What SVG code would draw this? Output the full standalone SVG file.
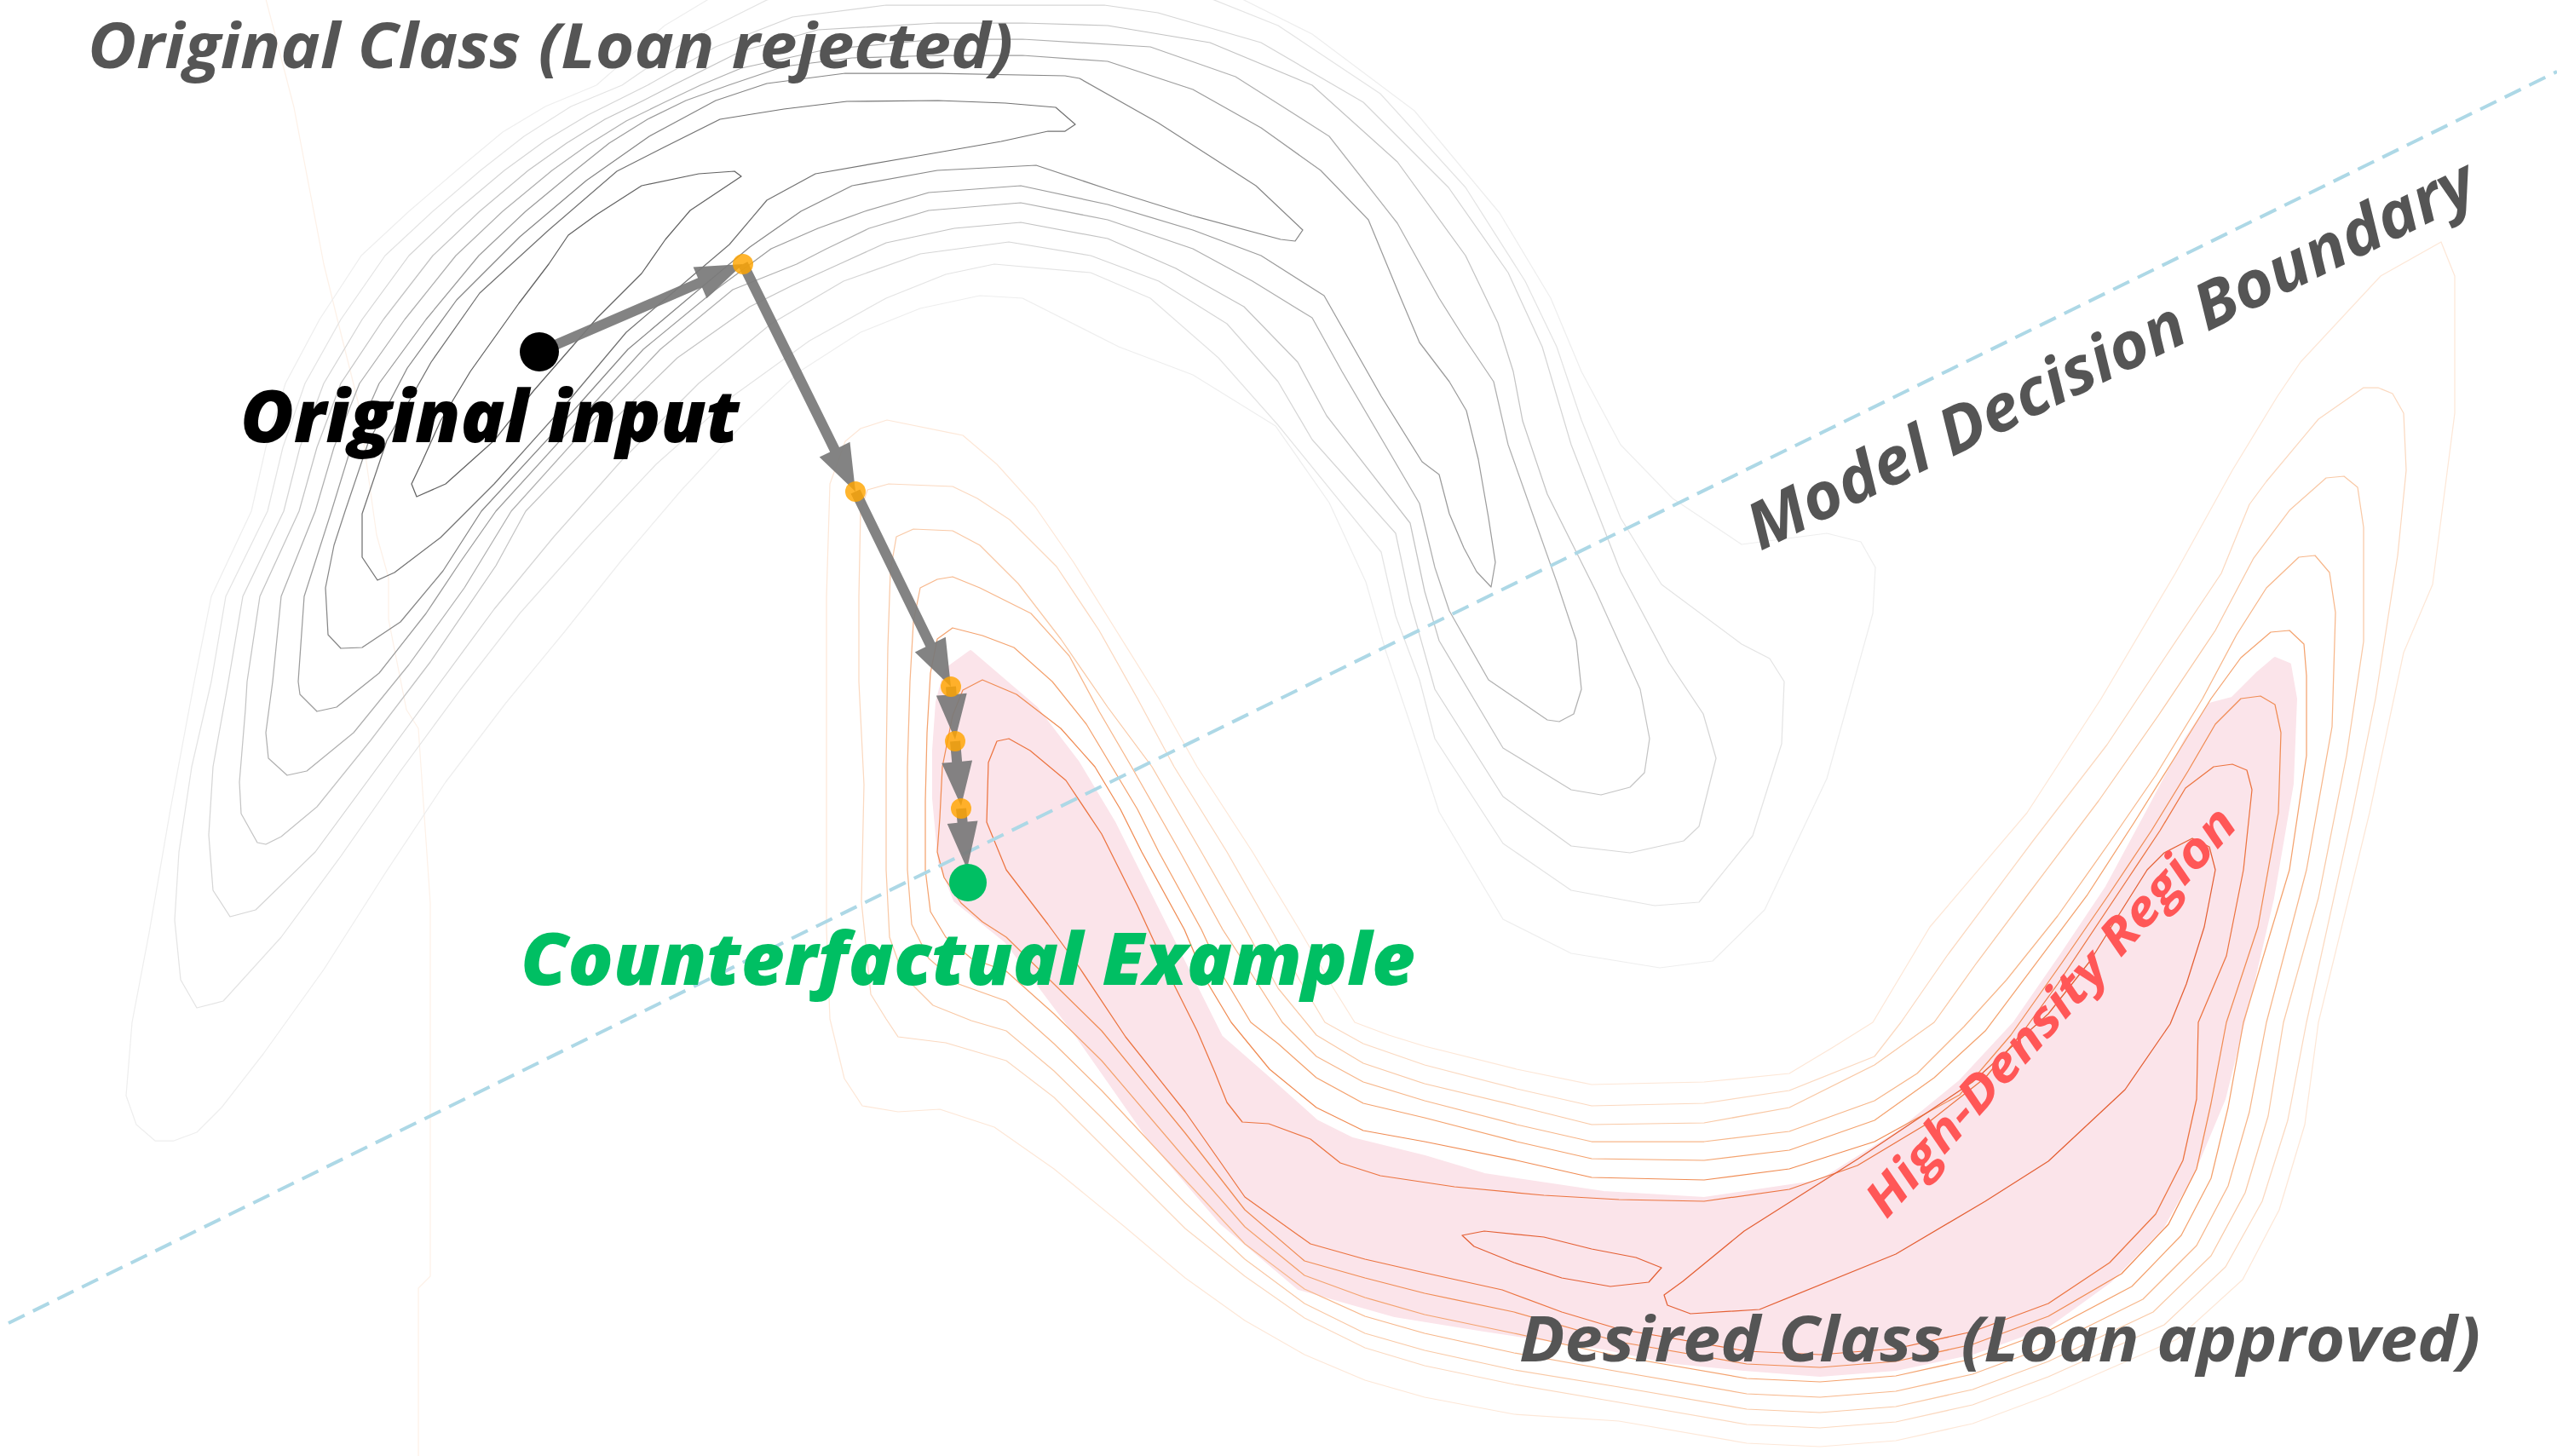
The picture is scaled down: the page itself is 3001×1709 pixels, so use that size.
<svg xmlns="http://www.w3.org/2000/svg" width="3001" height="1709" viewBox="0 0 3001 1709">
<style>
  .c{fill:none;stroke-width:1.25;stroke-linejoin:round;stroke-linecap:round}
  .g1{stroke:#626262}.g2{stroke:#727272}.g3{stroke:#878787}.g4{stroke:#9c9c9c}.g5{stroke:#b0b0b0}
  .g6{stroke:#c4c4c4}.g7{stroke:#d6d6d6}.g8{stroke:#e4e4e4}.g9{stroke:#eeeeee}
  .o0{stroke:#e45f33}.o1{stroke:#ec7440}.o2{stroke:#f08c54}.o3{stroke:#f4a36f}.o4{stroke:#f7b78b}
  .o5{stroke:#f9c9a6}.o6{stroke:#fbd9c0}.o7{stroke:#fde7d7}.o8{stroke:#fdf1e8}
  .pink{fill:#fbe4ea;stroke:#fbe4ea;stroke-width:4;stroke-linejoin:round}
  .boundary{fill:none;stroke:#add8e6;stroke-width:4;stroke-dasharray:21 11}
  .arrow{fill:#7a7a7a;fill-opacity:0.93}
  .step{fill:#ffa500;fill-opacity:0.82}
  text{font-family:"Open Sans","Liberation Sans",sans-serif;font-style:italic}
  .cls{font-size:74px;font-weight:700;fill:#555555}
  .big{font-size:85px;font-weight:800}
</style>
<rect width="3001" height="1709" fill="#ffffff"/>

<!-- high-density band of the approved class -->
<path class="pink" d="M1139,765 L1167,789 1216,831 1265,895 1307,965 1349,1049 1391,1133 1433,1217 1489,1266 1545,1316 1587,1337 1672,1358 1742,1379 1882,1400 2000,1407 2136,1387 2225,1331 2300,1270 2365,1200 2419,1122 2473,1041 2520,954 2566,867 2593,827 2620,820 2650,790 2670,773 2687,780 2694,820 2690,920 2667,1054 2640,1170 2610,1290 2574,1376 2538,1440 2476,1504 2404,1556 2315,1588 2225,1607 2136,1614 2047,1607 1957,1598 1882,1582 1742,1561 1637,1544 1524,1512 1433,1435 1349,1337 1265,1217 1181,1105 1121,1057 1103,1012 1096,937 1096,881 1100,824 1110,786 Z"/>

<!-- density contours: approved class (orange) -->
<g id="density-approved">
<path class="c o8" d="M311,-5 L345,126 380,310 397,379 420,471 442,628 456,678 456,727 477,833 491,855 505,1060 505,1498 491,1512 491,1715"/>
<path class="c o7" d="M1041,493 L1010,503 992,518 974,568 970,700 970,850 970,1091 974,1196 991,1266 1012,1298 1054,1305 1103,1302 1167,1323 1237,1372 1320,1440 1391,1500 1461,1550 1531,1590 1602,1620 1672,1640 1777,1660 1900,1668 2050,1694 2136,1698 2225,1691 2315,1671 2404,1638 2555,1572 2632,1502 2675,1420 2705,1320 2721,1200 2781,954 2821,766 2855,686 2881,485 2881,324 2865,284 2794,324 2700,425 2673,465 2620,552 2553,673 2466,820 2379,954 2265,1088 2198,1200 2150,1230 2100,1260 2000,1270 1868,1273 1780,1255 1672,1228 1630,1215 1590,1200 1565,1160 1525,1091 1470,1000 1405,900 1360,820 1310,740 1260,660 1215,595 1170,545 1130,511 Z"/>
<path class="c o6" d="M1043,568 L1018,575 1010,600 1008,700 1008,800 1014,921 1011,1058 1022,1167 1040,1196 1054,1217 1110,1224 1181,1245 1237,1288 1293,1344 1391,1442 1461,1498 1531,1547 1602,1582 1672,1603 1777,1625 1900,1646 2050,1672 2136,1676 2225,1669 2315,1649 2404,1616 2540,1555 2612,1487 2655,1410 2685,1315 2707,1200 2761,954 2788,820 2814,652 2824,552 2821,485 2808,462 2791,455 2774,455 2721,492 2660,565 2640,592 2607,673 2540,773 2473,874 2386,987 2285,1122 2231,1200 2200,1240 2100,1280 2000,1295 1868,1298 1780,1278 1672,1250 1600,1225 1555,1200 1525,1150 1492,1091 1440,1000 1378,900 1335,820 1290,740 1240,665 1185,610 1147,585 1118,571 Z"/>
<path class="c o5" d="M1072,621 L1052,630 1045,670 1042,760 1040,900 1040,1021 1044,1100 1060,1145 1095,1180 1140,1198 1181,1210 1237,1257 1293,1312 1391,1412 1461,1478 1531,1530 1602,1565 1672,1585 1777,1608 1900,1628 2050,1654 2136,1658 2225,1651 2315,1631 2404,1598 2527,1540 2595,1474 2635,1400 2662,1310 2680,1200 2721,1054 2754,887 2774,753 2774,619 2767,572 2751,559 2730,561 2687,599 2645,655 2600,740 2533,840 2463,940 2380,1050 2320,1130 2270,1200 2200,1250 2100,1300 2000,1318 1868,1320 1780,1298 1672,1272 1600,1248 1545,1215 1500,1160 1462,1091 1410,1000 1352,900 1300,830 1245,750 1195,685 1150,640 1118,623 Z"/>
<path class="c o4" d="M1100,680 L1080,690 1072,730 1068,800 1065,900 1065,1021 1070,1085 1090,1125 1125,1155 1181,1175 1237,1225 1293,1280 1391,1385 1461,1460 1531,1513 1602,1545 1672,1565 1777,1588 1900,1610 2050,1636 2136,1640 2225,1633 2315,1613 2404,1580 2515,1525 2578,1462 2615,1392 2640,1305 2660,1200 2707,1021 2737,853 2741,719 2734,672 2717,652 2698,654 2660,690 2625,745 2585,820 2530,910 2475,990 2415,1075 2355,1150 2305,1205 2250,1260 2200,1292 2100,1328 2000,1340 1868,1340 1780,1320 1672,1292 1600,1270 1545,1240 1505,1200 1470,1145 1435,1091 1385,1000 1328,900 1290,835 1255,770 1210,720 1150,690 1118,677 Z"/>
<path class="c o3" d="M1118,737 L1100,750 1092,790 1088,860 1086,940 1086,1021 1092,1070 1110,1100 1140,1125 1181,1140 1237,1190 1293,1245 1391,1360 1461,1440 1531,1497 1602,1523 1672,1543 1777,1565 1900,1592 2050,1618 2136,1622 2225,1615 2315,1595 2404,1562 2502,1510 2560,1450 2595,1383 2615,1300 2633,1200 2687,1021 2707,887 2707,793 2704,756 2687,740 2665,742 2630,772 2595,820 2555,885 2505,965 2450,1050 2390,1130 2330,1210 2270,1265 2200,1315 2100,1350 2000,1362 1868,1360 1780,1340 1672,1312 1600,1295 1545,1265 1500,1225 1468,1200 1435,1145 1410,1091 1360,1000 1335,950 1305,900 1275,850 1235,800 1190,760 1153,746 Z"/>
<path class="c o2" d="M1153,798 L1130,810 1118,840 1106,900 1103,960 1100,1000 1108,1030 1128,1060 1153,1082 1181,1100 1237,1155 1293,1210 1391,1330 1461,1420 1531,1480 1602,1500 1672,1518 1777,1540 1900,1575 2050,1601 2136,1605 2225,1598 2315,1578 2404,1545 2490,1495 2545,1437 2578,1372 2595,1295 2613,1200 2650,1088 2674,954 2677,860 2670,827 2653,817 2630,820 2600,850 2568,905 2525,975 2475,1050 2420,1130 2360,1215 2300,1285 2200,1340 2100,1372 2000,1385 1868,1382 1780,1362 1672,1340 1600,1327 1545,1300 1490,1255 1445,1200 1415,1150 1390,1091 1340,1000 1315,950 1285,900 1245,855 1193,815 Z"/>
<path class="c o1" d="M1184,867 L1170,870 1160,895 1158,965 1181,1021 1230,1085 1265,1133 1321,1217 1391,1305 1461,1405 1538,1460 1602,1478 1672,1494 1763,1514 1833,1540 1900,1560 2050,1586 2136,1590 2225,1583 2315,1563 2404,1530 2476,1482 2530,1425 2562,1362 2578,1290 2580,1200 2613,1122 2633,1021 2643,927 2637,904 2620,897 2598,900 2565,925 2535,975 2495,1035 2455,1095 2415,1155 2375,1210 2330,1265 2260,1320 2180,1368 2100,1396 2000,1410 1900,1408 1812,1403 1707,1393 1620,1380 1573,1365 1538,1337 1489,1319 1458,1317 1440,1294 1426,1259 1405,1210 1377,1154 1335,1063 1293,979 1251,916 1209,881 Z"/>
<path class="c o0" d="M1716,1450 L1742,1445 1812,1452 1868,1466 1920,1476 1950,1488 1935,1505 1890,1510 1833,1500 1777,1482 1730,1463 Z"/>
<path class="c o0" d="M1953,1520 L1957,1532 1984,1542 2065,1537 2225,1472 2330,1410 2404,1363 2494,1279 2547,1202 2566,1155 2587,1088 2600,1021 2593,994 2573,984 2540,1001 2520,1021 2486,1075 2453,1128 2404,1190 2315,1270 2181,1360 2047,1445 1975,1504 Z"/>
</g>

<!-- density contours: rejected class (grey) -->
<g id="density-rejected">
<path class="c g9" d="M182,1339 L160,1320 148,1286 155,1200 175,1095 200,950 228,800 248,700 295,600 312,525 335,450 375,375 424,300 480,248 536,200 590,155 640,125 700,100 780,30 880,-30 1000,-60 1300,-60 1420,-20 1540,40 1660,130 1760,250 1820,350 1856,436 1902,522 1963,585 2044,639 2144,626 2184,636 2201,666 2198,720 2144,914 2071,1068 2010,1128 1948,1136 1844,1119 1764,1079 1689,953 1655,849 1626,763 1603,683 1560,590 1497,500 1400,440 1313,407 1200,350 1150,347 1080,362 1010,390 940,435 870,500 800,575 730,657 663,741 593,826 523,918 452,1025 380,1138 309,1237 260,1300 231,1329 204,1339 Z"/>
<path class="c g8" d="M231,1183 L212,1150 205,1080 210,1000 225,900 248,800 265,700 314,600 332,525 358,450 400,375 452,300 508,248 564,200 615,160 670,125 730,100 810,45 900,0 1000,-25 1300,-25 1400,-10 1500,30 1620,110 1720,220 1790,330 1827,407 1856,493 1902,608 1950,686 2044,756 2077,773 2094,800 2091,873 2057,981 1994,1059 1942,1063 1844,1045 1764,990 1684,867 1666,798 1638,723 1621,648 1500,499 1430,420 1350,350 1280,320 1167,310 1110,322 1040,350 950,400 860,465 770,545 690,630 610,720 540,810 470,905 400,1005 330,1100 262,1175 Z"/>
<path class="c g7" d="M270,1076 L250,1045 245,980 250,900 268,800 285,700 333,600 352,525 380,450 425,375 480,300 535,248 592,200 640,165 690,135 760,100 840,55 930,20 1040,6 1296,6 1359,15 1480,50 1600,120 1700,220 1770,320 1810,407 1844,522 1902,671 1959,778 1999,838 2014,890 1994,970 1976,987 1913,1001 1844,993 1764,935 1684,809 1655,706 1638,626 1540,516 1500,448 1440,380 1360,330 1280,300 1184,284 1080,298 990,330 905,380 820,450 730,540 650,630 580,715 510,810 440,905 370,1000 300,1068 Z"/>
<path class="c g6" d="M302,989 L283,955 281,918 288,833 290,800 305,700 351,600 372,525 400,450 450,375 508,300 563,248 620,200 665,168 710,140 755,118 790,100 870,60 960,35 1100,27 1200,27 1300,30 1420,50 1540,100 1640,190 1720,300 1758,379 1776,436 1787,494 1816,580 1873,694 1925,809 1936,867 1930,907 1913,924 1879,933 1844,927 1764,878 1689,752 1672,694 1655,614 1557,488 1523,425 1460,360 1380,315 1300,280 1198,261 1120,268 1040,285 985,310 930,335 880,360 795,420 708,505 617,600 582,664 505,777 435,869 372,947 330,982 312,991 Z"/>
<path class="c g5" d="M337,910 L315,890 312,860 320,800 330,700 370,600 392,525 422,450 475,375 535,300 590,248 648,200 690,170 735,142 780,120 822,100 870,80 970,58 1100,46 1200,46 1350,55 1450,90 1560,160 1640,262 1689,350 1718,396 1753,448 1770,522 1827,683 1850,752 1856,809 1847,838 1830,847 1816,845 1747,798 1701,717 1684,666 1666,591 1575,436 1540,373 1470,330 1400,292 1300,258 1198,238 1090,247 1020,268 970,292 935,310 860,340 775,410 690,500 600,600 545,690 480,780 415,860 360,905 Z"/>
<path class="c g4" d="M372,835 L352,815 350,800 357,700 389,600 412,525 445,450 500,375 562,300 617,248 675,200 715,168 760,140 805,118 855,100 920,78 1000,68 1100,65 1200,65 1300,72 1400,105 1480,150 1550,200 1606,258 1644,350 1666,402 1701,448 1721,482 1735,539 1747,608 1755,660 1750,689 1733,671 1718,643 1701,603 1689,557 1669,542 1621,465 1575,384 1554,347 1480,300 1400,270 1300,240 1198,218 1090,226 1015,248 960,268 905,292 840,340 755,410 673,500 582,600 540,660 500,720 445,790 395,830 Z"/>
<path class="c g3" d="M400,761 L385,745 382,690 392,640 405,600 432,520 478,432 536,352 610,278 688,212 762,160 840,118 900,98 992,86 1100,86 1250,89 1267,92 1359,144 1474,218 1529,270 1520,283 1503,281 1399,253 1300,222 1216,194 1100,200 1000,218 940,248 880,290 820,340 737,410 657,500 565,600 520,670 470,730 425,760 Z"/>
<path class="c g2" d="M443,681 L425,654 425,603 454,517 506,425 563,344 644,270 724,201 781,172 845,140 920,128 994,119 1101,118 1180,121 1239,126 1262,146 1250,154 1230,154 1175,166 1072,184 957,204 900,235 856,287 816,321 735,390 667,471 580,568 517,631 463,672 Z"/>
<path class="c g1" d="M489,583 L483,568 494,545 517,494 552,436 609,356 644,310 667,276 700,252 753,218 820,204 862,201 870,207 810,247 781,281 753,321 701,373 626,459 580,517 523,568 Z"/>
</g>

<!-- classifier decision boundary -->
<path id="decision-boundary" class="boundary" d="M10,1553 L3001,84"/>

<!-- path of the counterfactual search -->
<g id="connectors">
  <polygon class="arrow" points="635.4,418.5 823.9,337.3 829.4,350.2 872,310 813.6,313.4 819.1,326.3 630.6,407.5"/>
  <polygon class="arrow" points="866.6,312.7 974.2,530.4 961.7,536.6 1004,577 997.5,518.8 985.0,525.0 877.4,307.3"/>
  <polygon class="arrow" points="998.6,579.6 1086.4,759.2 1073.8,765.4 1116,806 1109.8,747.8 1097.2,754.0 1009.4,574.4"/>
  <polygon class="arrow" points="1110.0,806.5 1110.7,815.7 1098.8,816.6 1121,868 1134.7,813.8 1122.7,814.7 1122.0,805.5"/>
  <polygon class="arrow" points="1115.0,870.5 1117.2,894.7 1105.2,895.8 1128,946 1141.1,892.6 1129.1,893.7 1127.0,869.5"/>
  <polygon class="arrow" points="1122.0,949.6 1123.6,965.8 1111.7,967.0 1135,1020 1147.5,963.4 1135.6,964.6 1134.0,948.4"/>
</g>

<g id="step-1"><circle class="step" cx="872" cy="310" r="12"/></g>
<g id="step-2"><circle class="step" cx="1004" cy="577" r="12"/></g>
<g id="step-3"><circle class="step" cx="1116" cy="806" r="12"/></g>
<g id="step-4"><circle class="step" cx="1121" cy="870" r="12"/></g>
<g id="step-5"><circle class="step" cx="1128" cy="949" r="12"/></g>

<g id="original-input">
  <circle cx="633" cy="413" r="23" fill="#000000"/>
  <text class="big" x="282" y="519" fill="#000000" textLength="586" lengthAdjust="spacingAndGlyphs">Original input</text>
</g>

<g id="counterfactual-example">
  <circle cx="1136" cy="1036" r="22" fill="#00bf63"/>
  <text class="big" x="611" y="1156" fill="#00bf63" textLength="1050" lengthAdjust="spacingAndGlyphs">Counterfactual Example</text>
</g>

<g id="labels">
  <text class="cls" x="103" y="80" textLength="1086" lengthAdjust="spacingAndGlyphs">Original Class (Loan rejected)</text>
  <text class="cls" x="1783" y="1598" font-size="73" textLength="1128" lengthAdjust="spacingAndGlyphs">Desired Class (Loan approved)</text>
  <text transform="translate(2066,647) rotate(-26.15)" x="0" y="0" font-size="76" font-weight="700" fill="#555555" textLength="942" lengthAdjust="spacingAndGlyphs">Model Decision Boundary</text>
  <text transform="translate(2214,1432) rotate(-48.2)" x="0" y="0" font-size="57" font-weight="700" fill="#ff5757" textLength="622" lengthAdjust="spacingAndGlyphs">High-Density Region</text>
</g>
</svg>
